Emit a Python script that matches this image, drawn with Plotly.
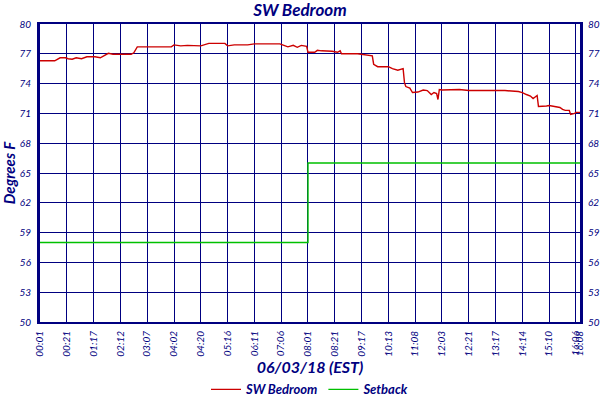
import plotly.graph_objects as go

# SW Bedroom readings, sample index -> degrees F
sample_idx = [0, 5, 11, 15, 19, 21, 24, 27, 31, 35, 41, 45, 48, 51, 54.5, 60, 64, 68, 70,
              72.6, 74, 85, 98, 100, 105, 110, 115, 120, 126, 133, 138, 140, 145, 150, 155,
              160, 170, 179, 181, 185, 189, 192, 195, 199, 200, 205, 207, 210, 218, 222, 224,
              225, 237, 248, 249, 252, 260, 263, 267, 271, 272, 273, 276, 278, 282, 286, 289,
              292, 294, 296, 297, 298, 300, 311, 313, 320, 330, 331, 347, 357, 360, 363, 366,
              368, 371, 372, 376, 378, 380, 383, 386, 388, 390, 392, 395, 396, 399, 400, 403]
sw_temp = [76.3, 76.3, 76.3, 76.6, 76.6, 76.5, 76.45, 76.6, 76.5, 76.7, 76.7, 76.6, 76.8, 77.05,
           76.95, 76.95, 76.95, 76.95, 77.1, 77.7, 77.7, 77.7, 77.7, 77.9, 77.8, 77.85, 77.8,
           77.8, 78.05, 78.05, 78.05, 77.8, 77.9, 77.9, 77.9, 78.0, 78.0, 78.0, 77.9, 77.7,
           77.85, 77.65, 77.85, 77.75, 77.15, 77.15, 77.35, 77.3, 77.25, 77.15, 77.3, 77.0,
           77.0, 76.8, 75.95, 75.7, 75.7, 75.5, 75.35, 75.5, 74.1, 73.7, 73.55, 73.1, 73.15,
           73.35, 73.3, 72.9, 73.1, 73.0, 72.4, 73.4, 73.35, 73.35, 73.4, 73.3, 73.3, 73.25,
           73.3, 73.2, 73.1, 72.9, 72.75, 72.5, 72.8, 71.7, 71.7, 71.75, 71.8, 71.75, 71.7,
           71.6, 71.4, 71.3, 71.3, 70.9, 71.0, 71.1, 71.1]

setback_idx = [0, 200, 200, 403]
setback_temp = [58, 58, 66, 66]

tick_idx = [0, 20, 40, 60, 80, 100, 120, 140, 160, 180, 200, 220, 240, 260, 280, 300,
            320, 340, 360, 380, 400, 403]
tick_labels = ["00:01", "00:21", "01:17", "02:12", "03:07", "04:02", "04:20", "05:16",
               "06:11", "07:06", "08:01", "08:21", "09:17", "10:13", "11:08", "12:03",
               "12:21", "13:17", "14:14", "15:10", "16:06", "16:08"]
y_ticks = [50, 53, 56, 59, 62, 65, 68, 71, 74, 77, 80]

navy = "#000080"
font_fam = "Lato"

fig = go.Figure()
fig.add_trace(go.Scatter(x=sample_idx, y=sw_temp, mode="lines", name="SW Bedroom",
                         line=dict(color="#CC0000", width=1.4)))
fig.add_trace(go.Scatter(x=setback_idx, y=setback_temp, mode="lines", name="Setback",
                         line=dict(color="#00C000", width=1.4)))
# invisible trace to drive the right-hand axis
fig.add_trace(go.Scatter(x=[0], y=[50], yaxis="y2", showlegend=False,
                         mode="markers", marker=dict(opacity=0), hoverinfo="skip"))

tick_font = dict(family=font_fam, size=10, color=navy, style="italic")

fig.update_layout(
    width=600, height=400,
    margin=dict(l=40, r=20, t=24, b=78, autoexpand=False),
    paper_bgcolor="white", plot_bgcolor="white",
    title=dict(text="SW Bedroom", x=0.5, xanchor="center", y=0.99, yanchor="top",
               font=dict(family=font_fam, size=17, color=navy, style="italic", weight="bold")),
    xaxis=dict(range=[0, 403], tickvals=tick_idx, ticktext=tick_labels, tickangle=-90,
               tickfont=tick_font, showgrid=True, gridcolor=navy, gridwidth=1.2,
               showline=True, linecolor=navy, linewidth=2, mirror=True, zeroline=False,
               automargin=False, ticks="outside", ticklen=3, tickcolor="white",
               title=dict(text="06/03/18 (EST)", standoff=1,
                          font=dict(family=font_fam, size=16, color=navy,
                                    style="italic", weight="bold"))),
    yaxis=dict(range=[50, 80], tickvals=y_ticks, tickfont=tick_font, showgrid=True,
               gridcolor=navy, gridwidth=1.2, showline=True, linecolor=navy, linewidth=3,
               zeroline=False, automargin=False, ticks="outside", ticklen=4,
               tickcolor="white",
               title=dict(text="Degrees F", standoff=4,
                          font=dict(family=font_fam, size=15, color=navy,
                                    style="italic", weight="bold"))),
    yaxis2=dict(range=[50, 80], tickvals=y_ticks, tickfont=tick_font, overlaying="y",
                side="right", showgrid=False, showline=True, linecolor=navy, linewidth=3,
                zeroline=False, automargin=False, ticks="outside", ticklen=3,
                tickcolor="white"),
    legend=dict(orientation="h", x=0.5, xanchor="center", y=-0.176, yanchor="top",
                font=dict(family=font_fam, size=13, color=navy, style="italic", weight="bold")),
    showlegend=True,
)

# drop the page's default body margin so the figure sits at the window origin
fig.write_html("out.html", config={"displayModeBar": False},
               post_script="document.body.style.margin='0px';")
